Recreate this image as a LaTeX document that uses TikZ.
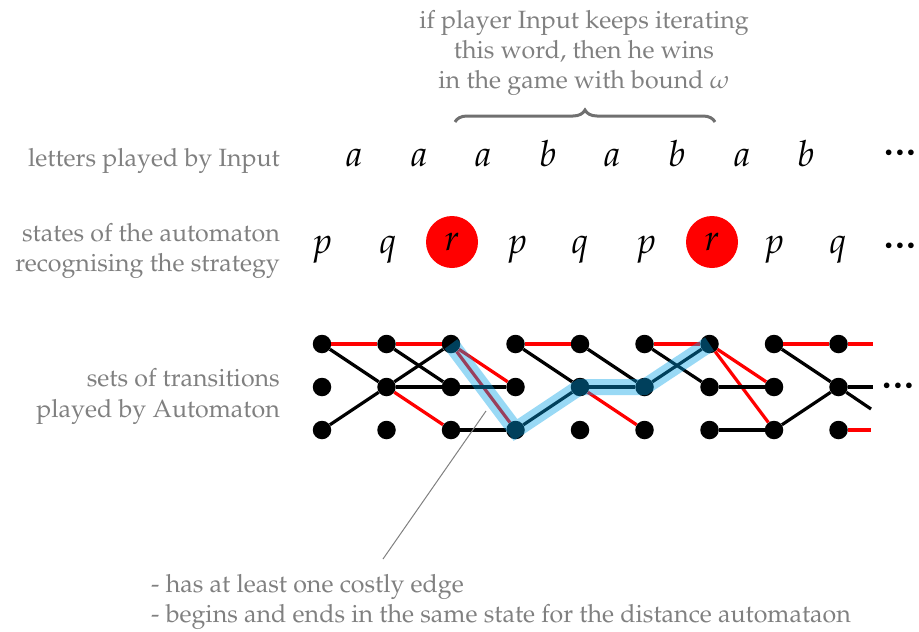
\documentclass[tikz,border=0pt]{standalone}
\usepackage[T1]{fontenc}
\usepackage{mathpazo}
\usetikzlibrary{decorations.pathreplacing}
\definecolor{txtgray}{RGB}{128,128,128}
\definecolor{bracegray}{RGB}{112,112,112}
\definecolor{hl}{RGB}{0,160,230}
\newcommand{\moredots}{${\bullet}\kern3.5pt{\bullet}\kern3.5pt{\bullet}$}
\begin{document}
\begin{tikzpicture}[x=1pt,y=-1pt,
  dot/.style={circle,fill=black,inner sep=0pt,minimum size=18.5pt},
  tr/.style={line width=3.2pt,black},
  costly/.style={line width=3.2pt,red},
  lbl/.style={text=txtgray,font=\fontsize{25}{30}\selectfont,inner sep=0pt},
  sym/.style={font=\fontsize{36}{40}\selectfont,inner sep=0pt,anchor=base},
  more/.style={font=\fontsize{14}{16}\selectfont,inner sep=0pt,anchor=base},
  marked/.style={circle,fill=red,inner sep=0pt,minimum size=52pt,font=\fontsize{36}{40}\selectfont},
  path hl/.style={line width=16pt,draw=hl,opacity=0.4},
]
\useasboundingbox (0,0) rectangle (919,632);

% top annotation
\node[lbl,anchor=base] (t1) at (584,28) {if player Input keeps iterating};
\node[lbl,anchor=base] (t2) at (584,58) {this word, then he wins};
\node[lbl,anchor=base] (t3) at (584,88) {in the game with bound $\omega$};
\coordinate (bl) at (455,122);
\coordinate (br) at (715,122);
\draw[decorate,decoration={brace,amplitude=12pt},line width=3pt,bracegray] (bl) -- (br);

% row labels
\node[lbl,anchor=base east] (l1) at (280,166) {letters played by Input};
\node[lbl,anchor=base east] (l2) at (280,241) {states of the automaton};
\node[lbl,anchor=base east] (l3) at (280,271) {recognising the strategy};
\node[lbl,anchor=base east] (l4) at (280,386) {sets of transitions};
\node[lbl,anchor=base east] (l5) at (280,417) {played by Automaton};

% letters
\foreach \i/\x/\s in {1/354/a,2/419/a,3/483/a,4/548/b,5/612/a,6/677/b,7/742/a,8/806/b}
  \node[sym] (let\i) at (\x,166) {$\s$};
\node[more] (letdots) at (900,156.5) {\moredots};

% states
\node[sym] (st1) at (322,253) {$p$};
\node[sym] (st2) at (388,253) {$q$};
\node[marked] (st3) at (452,242) {$r$};
\node[sym] (st4) at (517,253) {$p$};
\node[sym] (st5) at (580,253) {$q$};
\node[sym] (st6) at (646,253) {$p$};
\node[marked] (st7) at (712,242) {$r$};
\node[sym] (st8) at (774,253) {$p$};
\node[sym] (st9) at (838,253) {$q$};
\node[more] (stdots) at (900,249.5) {\moredots};

% transition dots
\foreach \c/\x in {1/322,2/386.5,3/451,4/515.5,5/580,6/644.5,7/709.5,8/774,9/838.5}
  \foreach \r/\y in {1/344,2/387,3/430}
    \node[dot] (n\c\r) at (\x,\y) {};

% column 1 -> 2
\draw[costly] (n11) -- (n21);
\draw[tr] (n11) -- (n22);
\draw[tr] (n13) -- (n22);
% column 2 -> 3
\draw[costly] (n21) -- (n31);
\draw[tr] (n21) -- (n32);
\draw[tr] (n22) -- (n31);
\draw[tr] (n22) -- (n32);
\draw[costly] (n22) -- (n33);
% column 3 -> 4
\draw[costly] (n31) -- (n42);
\draw[costly] (n31) -- (n43);
\draw[tr] (n32) -- (n42);
\draw[tr] (n33) -- (n43);
% column 4 -> 5
\draw[costly] (n41) -- (n51);
\draw[tr] (n41) -- (n52);
\draw[tr] (n43) -- (n52);
% column 5 -> 6
\draw[tr] (n51) -- (n62);
\draw[tr] (n52) -- (n62);
\draw[costly] (n52) -- (n63);
% column 6 -> 7
\draw[costly] (n61) -- (n71);
\draw[tr] (n61) -- (n72);
\draw[tr] (n62) -- (n71);
% column 7 -> 8
\draw[costly] (n71) -- (n82);
\draw[costly] (n71) -- (n83);
\draw[tr] (n72) -- (n82);
\draw[tr] (n73) -- (n83);
% column 8 -> 9
\draw[costly] (n81) -- (n91);
\draw[tr] (n81) -- (n92);
\draw[tr] (n83) -- (n92);
% stubs
\coordinate (s1) at (873,344);
\coordinate (s2) at (873,387);
\coordinate (s3) at (871,409);
\coordinate (s4) at (871,430);
\draw[costly] (n91) -- (s1);
\draw[tr] (n92) -- (s2);
\draw[tr] (n92) -- (s3);
\draw[costly] (n93) -- (s4);
\node[more] (grdots) at (898,389.5) {\moredots};

% highlighted path
\draw[path hl] (n31.center) -- (n43.center) -- (n52.center) -- (n62.center) -- (n71.center);

% pointer and bottom notes
\coordinate (pa) at (383,559);
\coordinate (pb) at (486,411);
\draw[txtgray,line width=1pt] (pa) -- (pb);
\node[lbl,anchor=base west] (b1) at (151,592) {- has at least one costly edge};
\node[lbl,anchor=base west] (b2) at (151,622) {- begins and ends in the same state for the distance automataon};
\end{tikzpicture}
\end{document}
